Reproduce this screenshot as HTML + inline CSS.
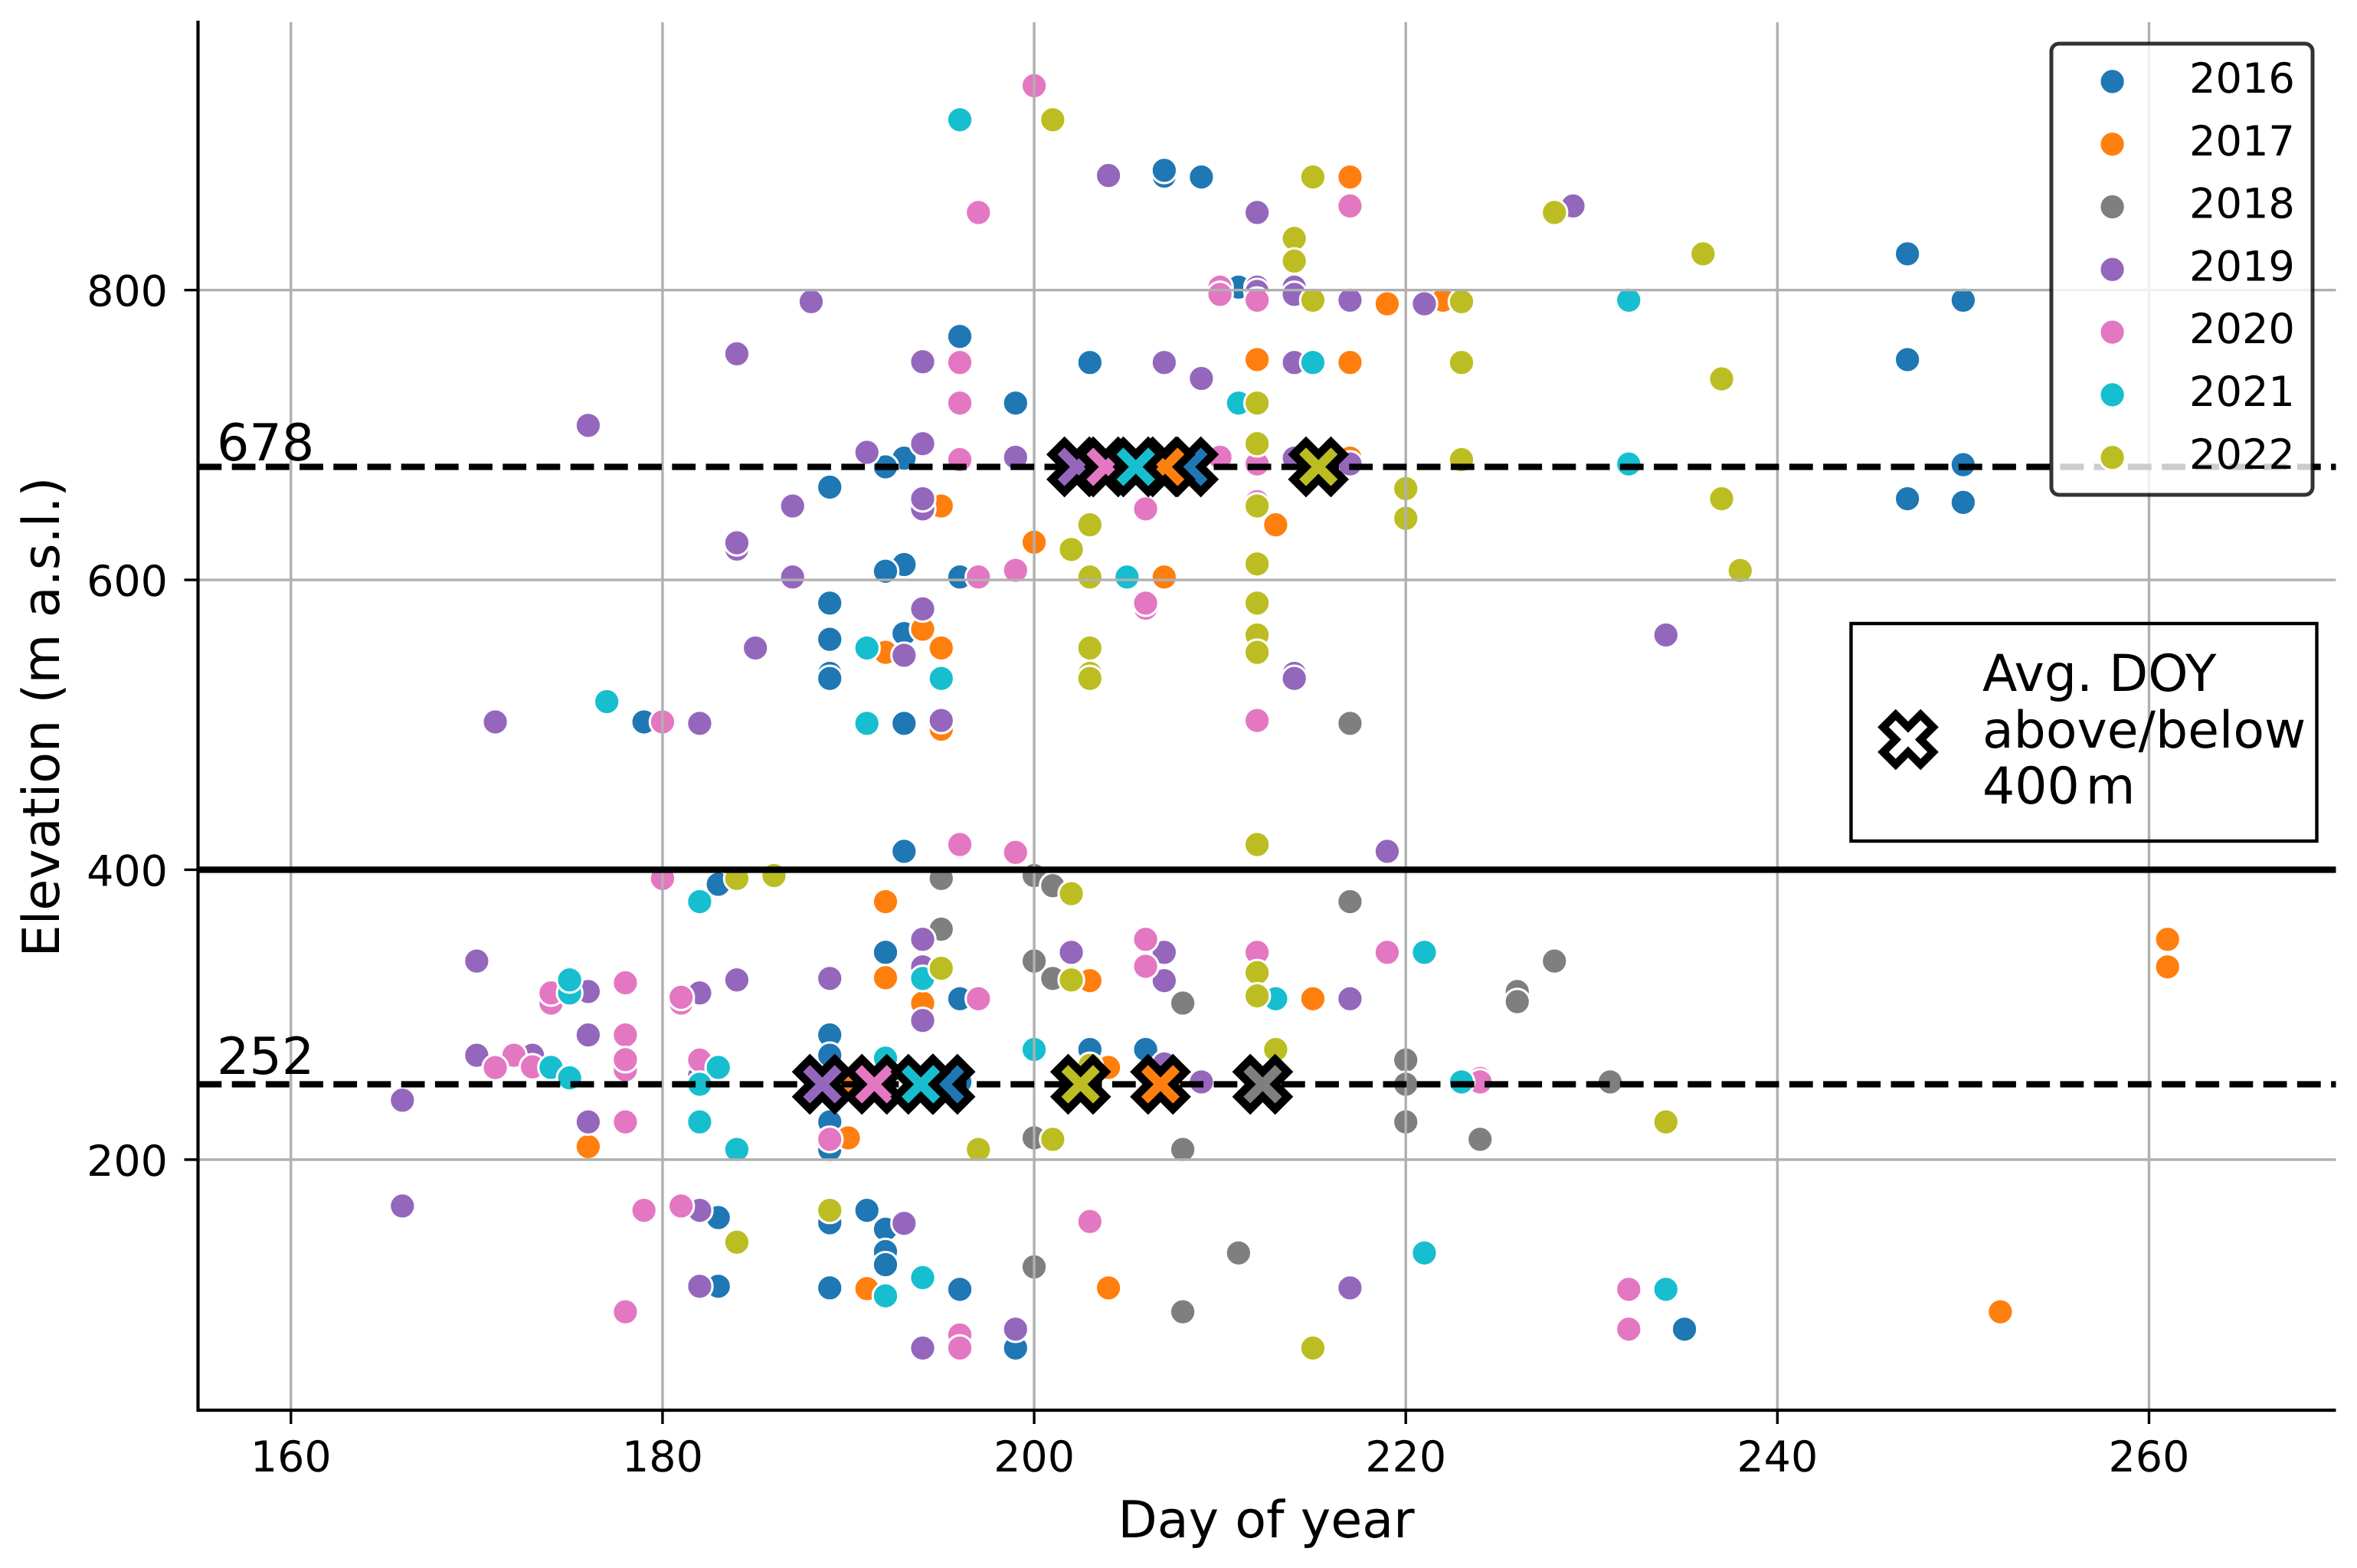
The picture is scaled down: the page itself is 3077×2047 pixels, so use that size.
<!DOCTYPE html>
<html lang="en">
<head>
<meta charset="utf-8">
<title>Elevation vs day of year</title>
<style>
html,body{margin:0;padding:0;background:#fff;}
svg{display:block;}
text{font-family:"DejaVu Sans","Liberation Sans",sans-serif;fill:#000;text-rendering:geometricPrecision;}
</style>
</head>
<body>
<svg id="chart" xmlns="http://www.w3.org/2000/svg" width="3077" height="2047" viewBox="0 0 3077 2047">
  <rect x="0" y="0" width="3077" height="2047" fill="#fff"/>
  <g id="scatter-layer"></g>
  <g id="grid-layer"></g>
  <g id="ref-layer"></g>
  <g id="avg-layer"></g>
  <g id="axis-layer"></g>
  <text x="283" y="601" font-size="66.7">678</text>
  <text x="283" y="1402" font-size="66.7">252</text>
  <text x="1653" y="2007" font-size="66.7" text-anchor="middle">Day of year</text>
  <text transform="translate(77,936) rotate(-90)" font-size="66.7" text-anchor="middle">Elevation (m a.s.l.)</text>
  <g id="legend-years">
    <rect x="2678" y="57" width="341" height="589" rx="10" ry="10" fill="#fff" fill-opacity="0.8" stroke="#000" stroke-opacity="0.8" stroke-width="5"/>
  </g>
  <g id="legend-avg">
    <rect x="2416.5" y="814" width="608" height="284" fill="none" stroke="#000" stroke-width="4.4"/>
    <text x="2588" y="902" font-size="66.4">Avg. DOY</text>
    <text x="2588" y="976" font-size="66.4">above/below</text>
    <text x="2588" y="1049" font-size="66.4">400<tspan dx="8">m</tspan></text>
  </g>
</svg>
<script>
// Axis ticks
const xTicks = [160, 180, 200, 220, 240, 260];
const yTicks = [200, 400, 600, 800];

// Reference elevations
const splitElevation = 400;
const upperElevation = 678;
const lowerElevation = 252;

// Series: [day of year, elevation]
const points2016 = [[196,768],[199,722],[203,750],[207,878.6],[207,882.6],[209,878],[211,802],[247,825],[250,793],[247,752],[250,679.5],[247,656],[250,653.5],[193,684],[192,678],[189,664],[193,610.6],[192,606],[189,584],[189,559],[193,563],[189,535.5],[189,532],[179,502],[193,501],[193,412.7],[183,390],[192,343],[189,286],[189,266],[189,272],[189,226],[189,207],[183,160],[189,156.4],[191,165],[192,152],[192,136.6],[192,127.5],[183,112.6],[189,111.5],[196,602],[196,311],[203,276],[206,276],[196,253.6],[196,110.5],[199,70],[235,83]];
const points2017 = [[217,878],[219,790.5],[222,793],[212,752],[217,750],[217,684],[195,651],[213,638],[200,626],[207,602],[194,566],[192,550],[195,553],[195,497],[192,378],[192,325.5],[194,308],[203,323.5],[215,311],[204,263.6],[190,252],[176,209],[190,215],[191,111],[204,111.5],[252,95],[261,352],[261,333]];
const points2018 = [[217,501],[195,394],[200,396],[201,389],[217,378],[195,359],[200,337],[228,337],[201,325],[226,316],[226,309],[208,308],[220,268.7],[220,252],[231,253.6],[220,226],[200,215],[208,207],[224,214],[211,135.6],[200,126],[208,95]];
const points2019 = [[204,879],[212,853.5],[229,858],[212,802],[212,799],[214,802],[214,797],[217,793],[221,790.5],[194,750.5],[207,750],[209,739],[214,750],[194,694],[199,684.6],[214,684],[217,680],[194,649],[194,656],[188,792],[184,756],[176,706.6],[191,688],[187,651],[184,621.3],[184,625.6],[187,602],[194,580],[193,548],[185,553],[195,503],[214,535.5],[214,532],[171,502],[182,501],[234,562],[219,412.7],[194,352],[170,337],[194,333],[189,325],[184,324],[176,316],[182,315],[202,343],[207,343],[207,323.5],[217,311],[194,296],[176,286],[170,272],[173,272],[182,258],[166,241],[176,226],[209,253.6],[207,266],[166,168],[182,165],[193,156],[182,112.6],[217,111.5],[199,83],[194,70]];
const points2020 = [[200,941],[197,853.5],[217,858],[210,802],[210,797],[212,793],[196,750],[196,722],[196,683],[210,684.6],[212,680],[206,580.5],[206,584],[206,649],[212,654],[199,606.6],[197,602],[180,502],[212,503],[196,417.4],[199,412],[180,394],[206,352],[212,343],[219,343],[206,333.4],[178,322],[174,308],[174,315],[181,308],[181,312],[197,311],[178,286],[172,272],[171,263.5],[173,264],[178,262],[178,269],[182,268.7],[224,256],[224,253.6],[178,226],[189,214],[179,165],[181,168],[203,157.3],[178,95],[232,110.5],[232,83],[196,79],[196,70]];
const points2021 = [[196,917.5],[232,793],[215,750],[211,722],[232,680],[205,602],[191,553],[195,532],[177,516],[191,501],[182,378],[194,325],[175,315],[175,324],[221,343],[213,311],[200,276],[192,270],[174,263.6],[183,263.6],[175,256.4],[182,252],[223,253.6],[182,226],[184,207],[221,135.6],[194,118.6],[192,106],[234,110.5]];
const points2022 = [[201,917.5],[215,878],[228,853.5],[214,835.6],[214,820],[215,793],[223,792],[223,750],[212,722],[212,694],[223,683],[212,651],[203,638],[220,663],[220,642.5],[236,825],[237,738.7],[237,656],[238,606.5],[202,621],[203,602],[212,611],[212,584],[212,562],[212,550],[203,553],[203,535.5],[203,532],[212,417.4],[184,394],[186,396],[202,383.5],[195,332],[212,329],[202,324],[212,313],[213,276],[203,265],[234,226],[197,207],[201,214],[189,165],[184,143],[215,70]];

const years = [2016, 2017, 2018, 2019, 2020, 2021, 2022];
const seriesPoints = [points2016, points2017, points2018, points2019, points2020, points2021, points2022];
const seriesColors = ['#1f77b4', '#ff7f0e', '#7f7f7f', '#9467bd', '#e377c2', '#17becf', '#bcbd22'];

// Mean day of year per year, above and below 400 m (null = not plotted)
const avgAboveDoy = [208.3, 207.05, null, 202.3, 203.85, 205.47, 215.3];
const avgBelowDoy = [195.2, 206.8, 212.3, 188.6, 191.4, 193.9, 202.5];

// Axis functions
const X_MIN = 155, X_MAX = 270.06, Y_MIN = 27.1, Y_MAX = 984.8;
const PX_LEFT = 258.5, PX_RIGHT = 3049.5, PX_BOTTOM = 1841, PX_TOP = 29;
function xScale(v) { return PX_LEFT + (v - X_MIN) / (X_MAX - X_MIN) * (PX_RIGHT - PX_LEFT); }
function yScale(v) { return PX_BOTTOM - (v - Y_MIN) / (Y_MAX - Y_MIN) * (PX_BOTTOM - PX_TOP); }

const NS = 'http://www.w3.org/2000/svg';
function make(tag, attrs, parent) {
  const node = document.createElementNS(NS, tag);
  for (const k in attrs) node.setAttribute(k, attrs[k]);
  parent.appendChild(node);
  return node;
}
function layer(id) { return document.getElementById(id); }

function crossPath(size) {
  const u = size / 4;
  const shape = [[-1,-2],[0,-1],[1,-2],[2,-1],[1,0],[2,1],[1,2],[0,1],[-1,2],[-2,1],[-1,0],[-2,-1]];
  return 'M' + shape.map(function (p) { return (p[0] * u) + ' ' + (p[1] * u); }).join('L') + 'Z';
}

// Scatter points
seriesPoints.forEach(function (points, s) {
  const group = make('g', { fill: seriesColors[s], stroke: '#fff', 'stroke-width': 3.1 }, layer('scatter-layer'));
  
  
  points.forEach(function (p) {
    const dot = make('circle', { cx: xScale(p[0]), cy: yScale(p[1]), r: 16.67 }, group);
    
    
  });
});

// Gridlines
xTicks.forEach(function (t) {
  const line = make('line', { x1: xScale(t), x2: xScale(t), y1: PX_TOP, y2: PX_BOTTOM, stroke: '#b0b0b0', 'stroke-width': 3.4 }, layer('grid-layer'));
  
  
});
yTicks.forEach(function (t) {
  const line = make('line', { x1: PX_LEFT, x2: PX_RIGHT, y1: yScale(t), y2: yScale(t), stroke: '#b0b0b0', 'stroke-width': 3.4 }, layer('grid-layer'));
  
  
});

// Reference lines
const splitLine = make('line', { x1: PX_LEFT, x2: PX_RIGHT, y1: yScale(splitElevation), y2: yScale(splitElevation), stroke: '#000', 'stroke-width': 8.3 }, layer('ref-layer'));


const upperLine = make('line', { x1: PX_LEFT, x2: PX_RIGHT, y1: yScale(upperElevation), y2: yScale(upperElevation), stroke: '#000', 'stroke-width': 8.3, 'stroke-dasharray': '30.8 13.4' }, layer('ref-layer'));


const lowerLine = make('line', { x1: PX_LEFT, x2: PX_RIGHT, y1: yScale(lowerElevation), y2: yScale(lowerElevation), stroke: '#000', 'stroke-width': 8.3, 'stroke-dasharray': '30.8 13.4' }, layer('ref-layer'));



// Average DOY crosses
const CROSS_SIZE = 65, CROSS_EDGE = 10.4;
function drawCross(doy, elevation, s, name) {
  const mark = make('path', {
    d: crossPath(CROSS_SIZE),
    transform: 'translate(' + xScale(doy) + ',' + yScale(elevation) + ')',
    fill: seriesColors[s], stroke: '#000', 'stroke-width': CROSS_EDGE, 'stroke-linejoin': 'miter'
  }, layer('avg-layer'));
  
  
}
avgBelowDoy.forEach(function (d, s) { if (d !== null) drawCross(d, lowerElevation, s, 'avg-doy-below'); });
avgAboveDoy.forEach(function (d, s) { if (d !== null) drawCross(d, upperElevation, s, 'avg-doy-above'); });

// Axes
const leftSpine = make('line', { x1: PX_LEFT, x2: PX_LEFT, y1: 27, y2: PX_BOTTOM + 2, stroke: '#000', 'stroke-width': 4.2 }, layer('axis-layer'));


const bottomSpine = make('line', { x1: PX_LEFT - 2, x2: PX_RIGHT, y1: PX_BOTTOM, y2: PX_BOTTOM, stroke: '#000', 'stroke-width': 4.2 }, layer('axis-layer'));



xTicks.forEach(function (t) {
  const tick = make('line', { x1: xScale(t), x2: xScale(t), y1: PX_BOTTOM, y2: PX_BOTTOM + 18, stroke: '#000', 'stroke-width': 3.4 }, layer('axis-layer'));
  
  
  const label = make('text', { x: xScale(t), y: 1921, 'font-size': 55.5, 'text-anchor': 'middle' }, layer('axis-layer'));
  
  
  label.textContent = String(t);
});
yTicks.forEach(function (t) {
  const tick = make('line', { x1: PX_LEFT - 18, x2: PX_LEFT, y1: yScale(t), y2: yScale(t), stroke: '#000', 'stroke-width': 3.4 }, layer('axis-layer'));
  
  
  const label = make('text', { x: 219, y: yScale(t) + 21, 'font-size': 55.5, 'text-anchor': 'end' }, layer('axis-layer'));
  
  
  label.textContent = String(t);
});

// Year legend
years.forEach(function (year, i) {
  const rowY = 106.4 + i * 81.8;
  const swatch = make('circle', { cx: 2757.6, cy: rowY, r: 16.67, fill: seriesColors[i], stroke: '#fff', 'stroke-width': 3.1 }, layer('legend-years'));
  
  
  const label = make('text', { x: 2858, y: rowY + 14.6, 'font-size': 54.2 }, layer('legend-years'));
  
  
  label.textContent = String(year);
});

// Average legend marker
const avgSwatch = make('path', {
  d: crossPath(CROSS_SIZE),
  transform: 'translate(2491,965.5)',
  fill: '#fff', stroke: '#000', 'stroke-width': CROSS_EDGE, 'stroke-linejoin': 'miter'
}, layer('legend-avg'));


</script>
</body>
</html>
